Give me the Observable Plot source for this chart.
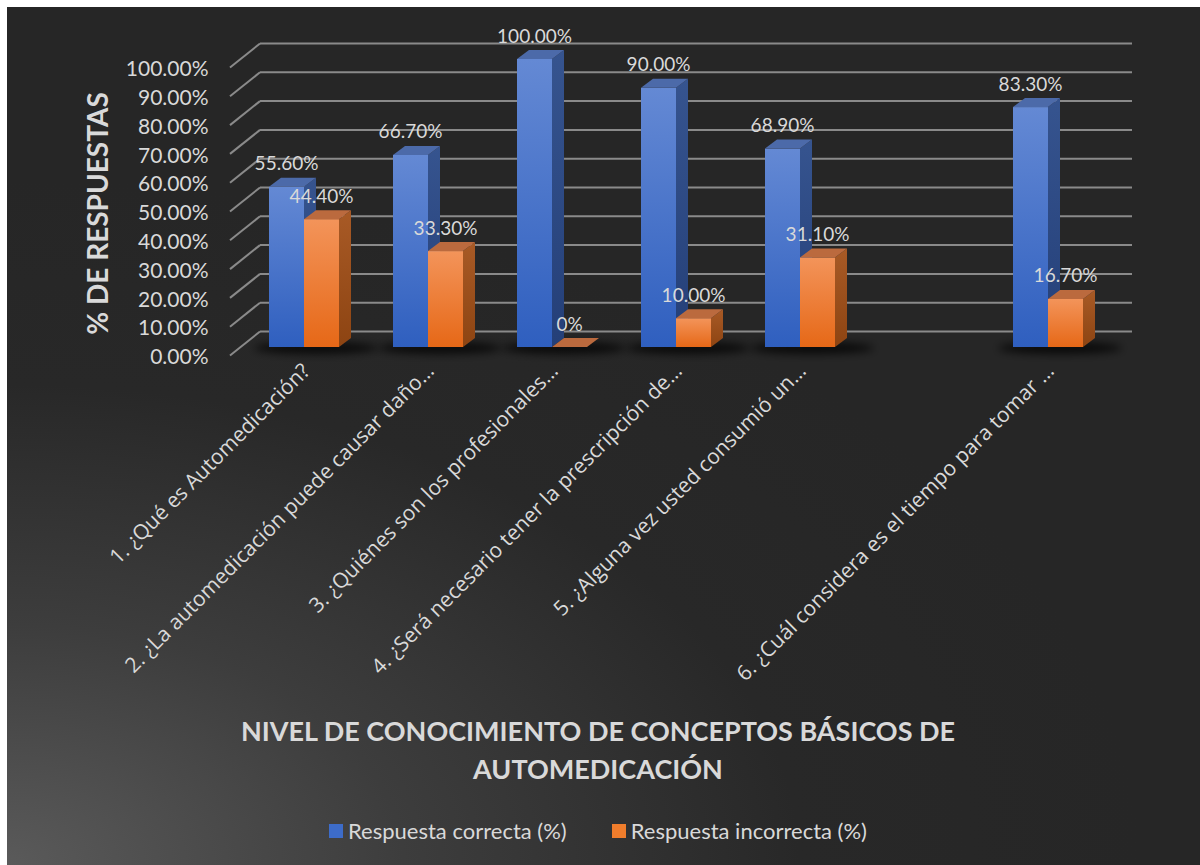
<!DOCTYPE html>
<html>
<head>
<meta charset="utf-8">
<script src="https://cdn.jsdelivr.net/npm/d3@7"></script>
<script src="https://cdn.jsdelivr.net/npm/@observablehq/plot@0.6"></script>
<style>
  html, body { margin: 0; padding: 0; background: #ffffff; }
  body { width: 1200px; height: 865px; position: relative; overflow: hidden; font-family: Lato, "Open Sans", sans-serif; }
  #card { position: absolute; left: 7px; top: 7px; width: 1193px; height: 858px;
    background: radial-gradient(ellipse 95% 80% at 0% 100%, #5a5a5a 0%, #3d3d3d 35%, #282828 70%, #262626 100%); }
  #chart { position: absolute; left: 0; top: 0; }
  #title { position: absolute; left: 0; width: 1196px; top: 712px; text-align: center; color: #d9d9d9;
    font-weight: 700; font-size: 27px; line-height: 38px; }
  #legend { position: absolute; top: 817px; left: 0; width: 1196px; display: flex; justify-content: center; gap: 45px;
    color: #d9d9d9; font-size: 22px; }
  #legend span.item { display: flex; align-items: center; gap: 5px; }
  #legend span.sw { display: inline-block; width: 14px; height: 14px; }
</style>
</head>
<body>
<div id="card"></div>
<div id="chart"></div>
<div id="title"></div>
<div id="legend"></div>
<script>
// ---- data ----
const categories = [
  "1. ¿Qué es Automedicación?",
  "2. ¿La automedicación puede causar daño…",
  "3. ¿Quiénes son los profesionales…",
  "4. ¿Será necesario tener la prescripción de…",
  "5. ¿Alguna vez usted consumió un…",
  "",
  "6. ¿Cuál considera es el tiempo para tomar …"
];
const correct   = [55.6, 66.7, 100, 90, 68.9, null, 83.3];
const incorrect = [44.4, 33.3, 0, 10, 31.1, null, 16.7];
const seriesNames = ["Respuesta correcta (%)", "Respuesta incorrecta (%)"];
const yTicks = [0, 10, 20, 30, 40, 50, 60, 70, 80, 90, 100];
const yTitle = "% DE RESPUESTAS";
const titleLines = ["NIVEL DE CONOCIMIENTO DE CONCEPTOS BÁSICOS DE", "AUTOMEDICACIÓN"];

// ---- build rows ----
const rows = categories.map((c, i) => ({cat: c, correct: correct[i], incorrect: incorrect[i]}))
  .filter(d => d.correct != null);

const fmtTick = v => v.toFixed(2) + "%";
const fmtLabel = v => v === 0 ? "0%" : v.toFixed(2) + "%";

const DX = 12, DY = -9;
const NS = "http://www.w3.org/2000/svg";
const palettes = {
  blue:   {id: "gb", frontTop: "#6489d4", frontBot: "#2f5fbf", sideTop: "#36548f", sideBot: "#243f78", top: "#4c6aa9"},
  orange: {id: "go", frontTop: "#f3945a", frontBot: "#e66817", sideTop: "#a85a26", sideBot: "#8d4412", top: "#bb6a3e"}
};

function el(name, attrs) {
  const e = document.createElementNS(NS, name);
  for (const k in attrs) e.setAttribute(k, attrs[k]);
  return e;
}

function bar3D(p, shadow) {
  return (index, scales, values, dims, ctx, next) => {
    const g = next(index, scales, values, dims, ctx);
    const defs = el("defs", {});
    const lg1 = el("linearGradient", {id: p.id + "f", x1: 0, y1: 0, x2: 0, y2: 1});
    lg1.append(el("stop", {offset: "0%", "stop-color": p.frontTop}), el("stop", {offset: "100%", "stop-color": p.frontBot}));
    const lg2 = el("linearGradient", {id: p.id + "s", x1: 0, y1: 0, x2: 0, y2: 1});
    lg2.append(el("stop", {offset: "0%", "stop-color": p.sideTop}), el("stop", {offset: "100%", "stop-color": p.sideBot}));
    defs.append(lg1, lg2);
    if (shadow) {
      const f = el("filter", {id: "shblur", x: "-50%", y: "-200%", width: "200%", height: "500%"});
      f.append(el("feGaussianBlur", {stdDeviation: "4"}));
      defs.append(f);
    }
    g.prepend(defs);
    const rects = Array.from(g.querySelectorAll("rect"));
    for (const r of rects) {
      const x = +r.getAttribute("x"), y = +r.getAttribute("y");
      const w = +r.getAttribute("width"), h = +r.getAttribute("height");
      r.setAttribute("fill", `url(#${p.id}f)`);
      if (shadow) {
        const sh = el("ellipse", {cx: x + w + 12, cy: y + h + 1, rx: 62, ry: 6, fill: "#000", "fill-opacity": 0.75, filter: "url(#shblur)"});
        g.insertBefore(sh, defs.nextSibling);
      }
      const side = el("polygon", {
        points: `${x + w},${y} ${x + w + DX},${y + DY} ${x + w + DX},${y + h + DY} ${x + w},${y + h}`,
        fill: `url(#${p.id}s)`
      });
      const top = el("polygon", {
        points: `${x},${y} ${x + DX},${y + DY} ${x + w + DX},${y + DY} ${x + w},${y}`,
        fill: p.top
      });
      r.after(side, top);
    }
    return g;
  };
}

function diagonals(index, scales, values, dims, ctx, next) {
  const g = next(index, scales, values, dims, ctx);
  for (const l of g.querySelectorAll("line")) {
    const x1 = +l.getAttribute("x1"), y1 = +l.getAttribute("y1");
    l.setAttribute("x1", x1 - 10); l.setAttribute("y1", y1 + 8);
    l.setAttribute("x2", x1 + 20); l.setAttribute("y2", y1 - 16);
  }
  return g;
}

const FONT = "Lato, 'Open Sans', sans-serif";
const chart = Plot.plot({
  width: 1200,
  height: 700,
  marginLeft: 240,
  marginRight: 88,
  marginTop: 59,
  marginBottom: 353,
  style: {background: "transparent", color: "#d9d9d9", fontFamily: FONT, overflow: "visible"},
  x: {domain: categories, padding: 0, axis: null},
  y: {domain: [0, 100], axis: null},
  marks: [
    Plot.ruleY(yTicks, {dx: 20, dy: -16, stroke: "#8a8a8a", strokeWidth: 2}),
    Plot.ruleY(yTicks, {stroke: "#8a8a8a", strokeWidth: 2, render: diagonals}),
    Plot.axisY({ticks: yTicks, tickFormat: fmtTick, tickSize: 0, tickPadding: 32, dy: 10, fontSize: 21, label: null}),
    Plot.axisX({tickRotate: -45, tickSize: 0, tickPadding: 20, dx: 2, fontSize: 21, fontFamily: "'Open Sans', sans-serif", label: null}),
    Plot.barY(rows, {x: "cat", y: "correct", insetLeft: 27, insetRight: 62, render: bar3D(palettes.blue, true)}),
    Plot.barY(rows, {x: "cat", y: "incorrect", insetLeft: 62, insetRight: 27, render: bar3D(palettes.orange, false)}),
    Plot.text(rows, {x: "cat", y: "correct", text: d => fmtLabel(d.correct), dx: -18, dy: -23, fontSize: 19, fill: "#d9d9d9"}),
    Plot.text(rows, {x: "cat", y: "incorrect", text: d => fmtLabel(d.incorrect), dx: 17, dy: -23, fontSize: 19, fill: "#d9d9d9"}),
    Plot.text([yTitle], {frameAnchor: "left", text: d => d, rotate: -90, textAnchor: "middle", dx: -141, dy: 10, fontSize: 28, fontWeight: 700, fill: "#d9d9d9"})
  ]
});
document.getElementById("chart").append(chart);

document.getElementById("title").innerHTML = titleLines.join("<br>");
const legendColors = ["#3d6cc9", "#f07d2c"];
document.getElementById("legend").innerHTML = seriesNames.map((s, i) =>
  `<span class="item"><span class="sw" style="background:${legendColors[i]}"></span>${s}</span>`).join("");
</script>
</body>
</html>
